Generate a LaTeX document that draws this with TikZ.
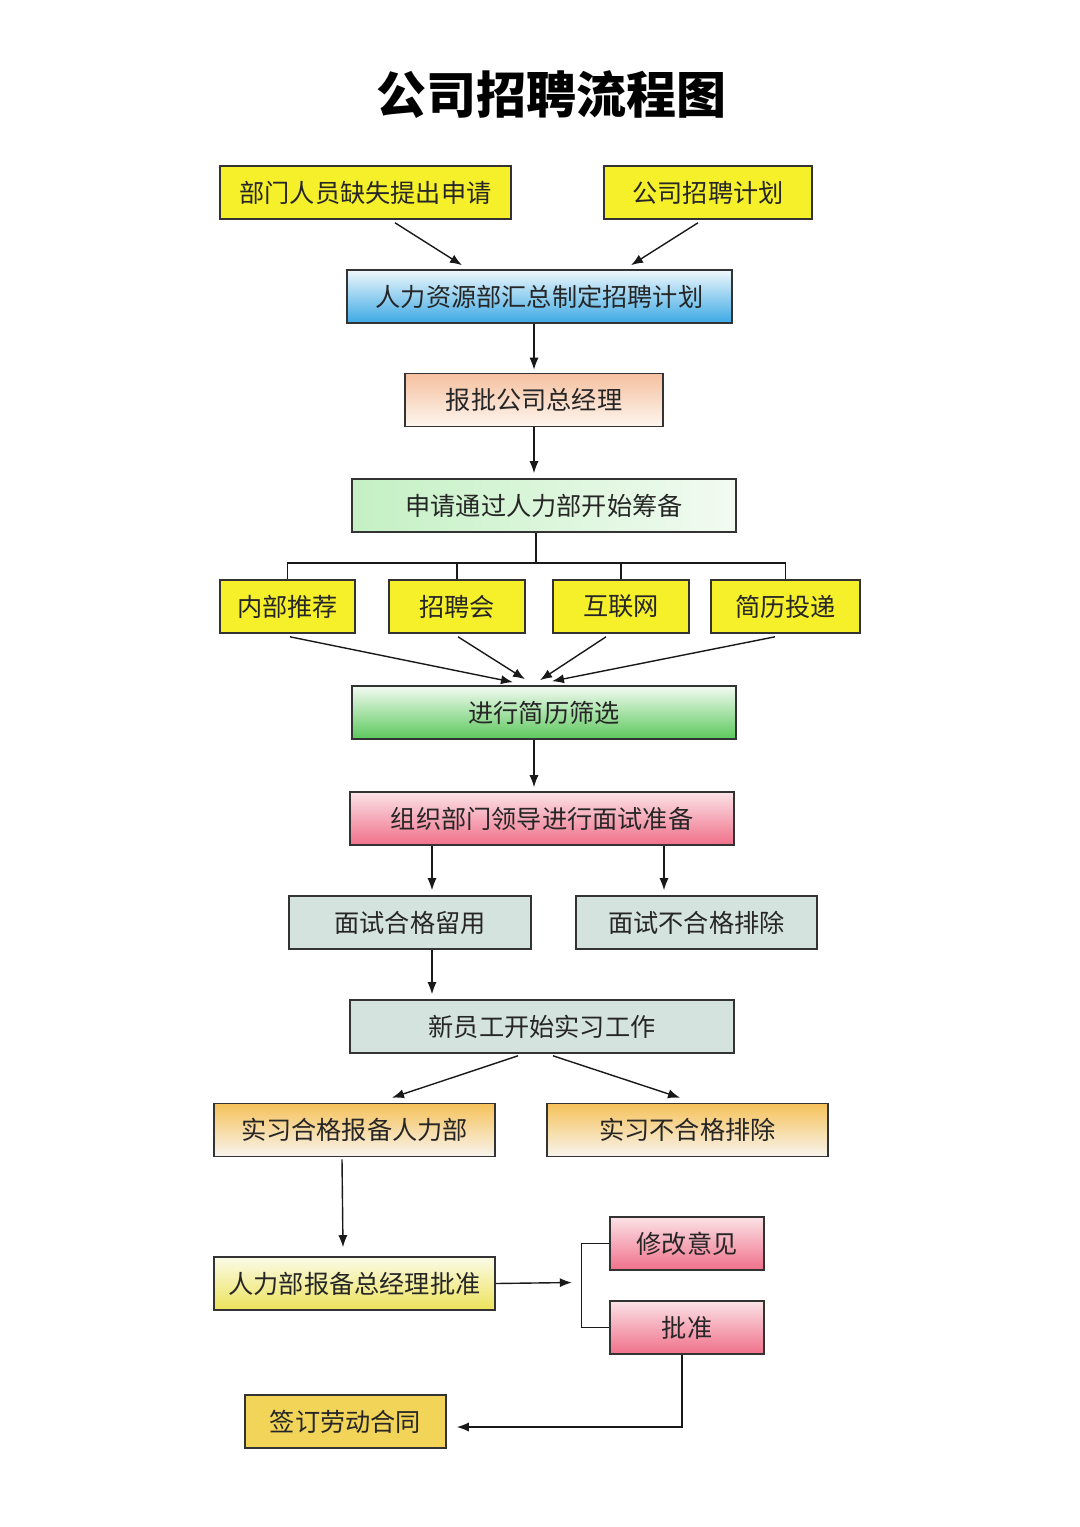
\documentclass[tikz,border=0pt]{standalone}
\usepackage{fontspec}
\setmainfont{Noto Sans CJK SC}
\usetikzlibrary{calc,arrows.meta}
\definecolor{ylw}{HTML}{F6F02A}
\definecolor{ylwpale}{HTML}{FFFCD6}
\definecolor{bluetop}{HTML}{EEF8FC}
\definecolor{bluebot}{HTML}{3CA8E4}
\definecolor{peach}{HTML}{F5C0A0}
\definecolor{peachpale}{HTML}{FDF6EE}
\definecolor{mint}{HTML}{C4F0C4}
\definecolor{mintpale}{HTML}{F2FBF2}
\definecolor{grn}{HTML}{5CC85C}
\definecolor{pinktop}{HTML}{FBE2E6}
\definecolor{pinkbot}{HTML}{F0708A}
\definecolor{sage}{HTML}{D4E3DE}
\definecolor{sagepale}{HTML}{F4F8F6}
\definecolor{orng}{HTML}{F5C25A}
\definecolor{orngpale}{HTML}{F8F4EE}
\definecolor{lemon}{HTML}{ECE25A}
\definecolor{lemonpale}{HTML}{FBFBE8}
\definecolor{gold}{HTML}{F1D458}
\definecolor{goldpale}{HTML}{F8E892}
\begin{document}
\begin{tikzpicture}[x=0.5pt,y=-0.5pt,>={Latex[length=6pt,width=4.6pt]}]
\tikzstyle{box}=[draw=black!80,line width=0.8pt,minimum height=26.5pt,inner sep=0pt,text=black!85,font=\fontsize{12.6}{14}\selectfont]
\tikzstyle{yel}=[box,top color=ylw,middle color=ylwpale,bottom color=ylw]
\tikzstyle{blu}=[box,top color=bluetop,bottom color=bluebot]
\tikzstyle{pch}=[box,top color=peach,bottom color=peachpale]
\tikzstyle{mnt}=[box,left color=mint,right color=mintpale]
\tikzstyle{grb}=[box,top color=mintpale,bottom color=grn]
\tikzstyle{pnk}=[box,top color=pinktop,bottom color=pinkbot]
\tikzstyle{sag}=[box,top color=sage,middle color=sagepale,bottom color=sage]
\tikzstyle{org}=[box,top color=orng,bottom color=orngpale]
\tikzstyle{lmn}=[box,top color=lemonpale,bottom color=lemon]
\tikzstyle{gld}=[box,top color=gold,middle color=goldpale,bottom color=gold]
\tikzstyle{link}=[line width=0.7pt,black!90]
\useasboundingbox (0,0) rectangle (1080,1527);
\path (551,95) node[font=\fontsize{25}{30}\selectfont\bfseries](title){公司招聘流程图};

\path (365.5,192.5) node[yel,minimum width=145.5pt](a1){部门人员缺失提出申请}
      (708,192.5) node[yel,minimum width=104pt](a2){公司招聘计划};
\path (539.5,296.5) node[blu,minimum width=192.5pt](a3){人力资源部汇总制定招聘计划};
\path (534,400) node[pch,minimum width=129pt](a4){报批公司总经理};
\path (544,505.5) node[mnt,minimum width=192pt](a5){申请通过人力部开始筹备};

\path (287.5,606.5) node[yel,minimum width=67.5pt](b1){内部推荐}
      (457,606.5) node[yel,minimum width=68pt](b2){招聘会}
      (621,606.5) node[yel,minimum width=68pt](b3){互联网}
      (785.5,606.5) node[yel,minimum width=74.5pt](b4){简历投递};

\path (544,712.5) node[grb,minimum width=192pt](c1){进行简历筛选};
\path (542,818.5) node[pnk,minimum width=192pt](c2){组织部门领导进行面试准备};
\path (410,922.5) node[sag,minimum width=121pt](d1){面试合格留用}
      (696.5,922.5) node[sag,minimum width=120.5pt](d2){面试不合格排除};
\path (542,1026.5) node[sag,minimum width=192pt](e1){新员工开始实习工作};
\path (354.5,1130) node[org,minimum width=140.5pt](f1){实习合格报备人力部}
      (687.5,1130) node[org,minimum width=140.5pt](f2){实习不合格排除};
\path (354.5,1283.5) node[lmn,minimum width=140.5pt](g1){人力部报备总经理批准};
\path (687,1243.5) node[pnk,minimum width=77pt](h1){修改意见}
      (687,1327.5) node[pnk,minimum width=77pt](h2){批准};
\path (345.5,1421.5) node[gld,minimum width=100.5pt](k1){签订劳动合同};

% top part
\draw[link,->] ($(a1.south)+(29.5,3)$) -- ($(a3.north)+(-77.5,-4)$);
\draw[link,->] ($(a2.south)+(-10,3)$) -- ($(a3.north)+(91.5,-4)$);
\draw[link,->] ($(a3.south)+(-5.5,0)$) -- ($(a4.north)+(0,-3)$);
\draw[link,->] (a4.south) -- ($(a5.north)+(-10,-5)$);

% channels
\coordinate (fork) at ($(a5.south)+(-8,30)$);
\draw[link] ($(a5.south)+(-8,0)$) -- (fork);
\draw[link] (b1.north) |- (fork);
\draw[link] (b4.north) |- (fork);
\draw[link] (b2.north) -- (b2.north |- fork);
\draw[link] (b3.north) -- (b3.north |- fork);
\draw[link,->] ($(b1.south)+(2.5,3)$) -- ($(c1.north)+(-31,-3)$);
\draw[link,->] ($(b2.south)+(1,3)$) -- ($(c1.north)+(-19,-6)$);
\draw[link,->] ($(b3.south)+(-15,3)$) -- ($(c1.north)+(-4,-5)$);
\draw[link,->] ($(b4.south)+(-10.5,3)$) -- ($(c1.north)+(8,-4)$);

% interview
\draw[link,->] ($(c1.south)+(-10,0)$) -- ($(c2.north)+(-8,-4)$);
\draw[link,->] ($(c2.south)+(-110,0)$) -- ($(d1.north)+(22,-5)$);
\draw[link,->] ($(c2.south)+(122,0)$) -- ($(d2.north)+(-32.5,-5)$);
\draw[link,->] ($(d1.south)+(22,0)$) -- ($(e1.north)+(-110,-5)$);
\draw[link,->] ($(e1.south)+(-24,2)$) -- ($(f1.north)+(37.5,-5)$);
\draw[link,->] ($(e1.south)+(11,2)$) -- ($(f2.north)+(-7.5,-5)$);

% approval
\draw[link,->] ($(f1.south)+(-12.5,2)$) -- ($(g1.north)+(-11.5,-9)$);
\coordinate (choice) at ($(g1.east)+(76,-1)$);
\draw[link,->] (g1.east) -- (choice);
\draw[link] (h1.west) -- ++(-28,0) |- (h2.west);
\draw[link,->] ($(h2.south)+(-5,0)$) |- ($(k1.east)+(10,5.5)$);
\end{tikzpicture}
\end{document}
